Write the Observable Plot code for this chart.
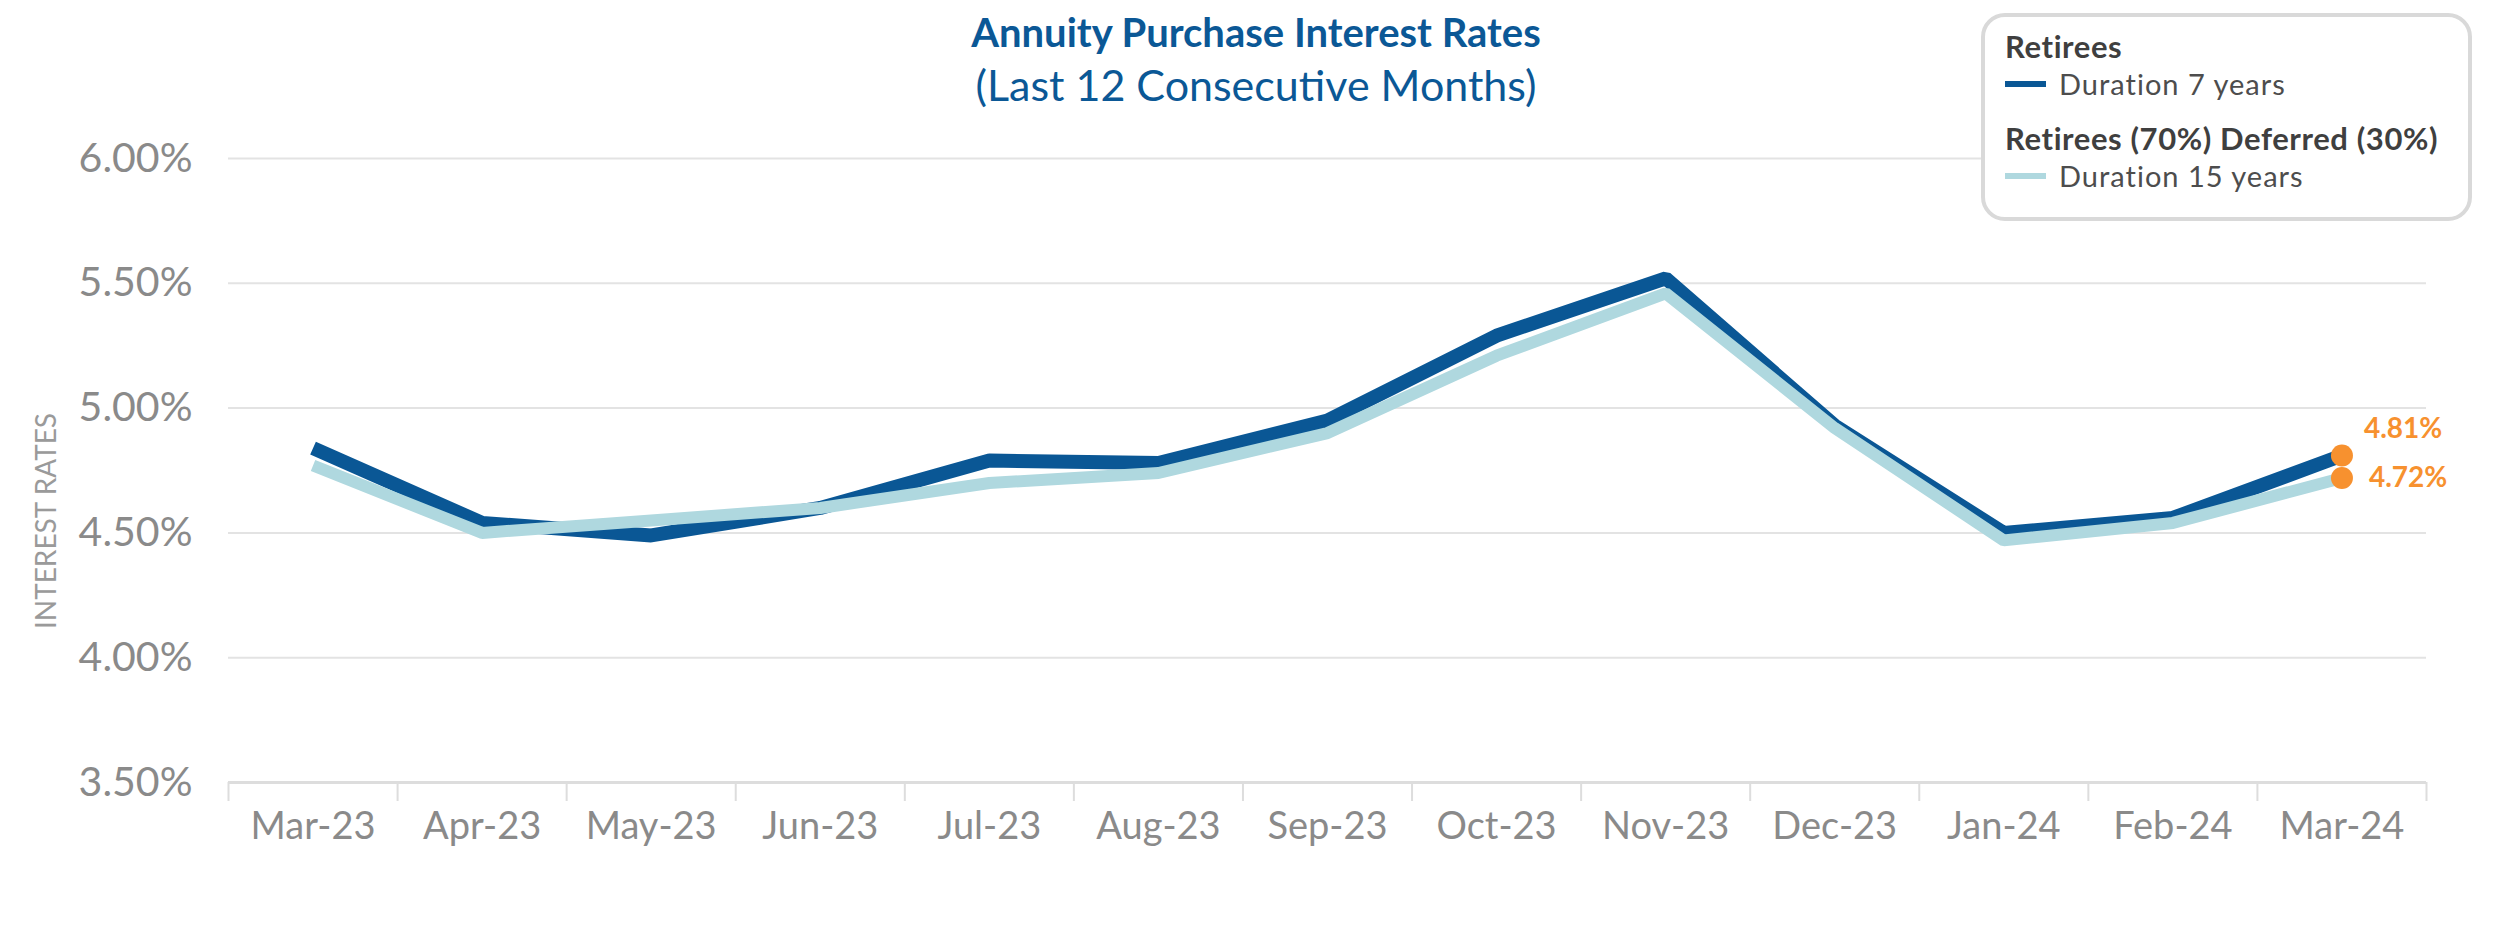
<!DOCTYPE html>
<html>
<head>
<meta charset="utf-8">
<script src="https://cdn.jsdelivr.net/npm/d3@7"></script>
<script src="https://cdn.jsdelivr.net/npm/@observablehq/plot@0.6"></script>
<style>
  html, body { margin: 0; padding: 0; background: #fff; }
  #wrap { position: relative; width: 2503px; height: 933px; overflow: hidden; font-family: Lato, "Open Sans", sans-serif; }
  .t { position: absolute; white-space: nowrap; }
  #title { left: 0; width: 2512px; top: 10px; height: 44px; line-height: 44px; text-align: center; color: #0b5896; font-weight: bold; font-size: 40px; }
  #subtitle { left: 0; width: 2512px; top: 61px; height: 48px; line-height: 48px; text-align: center; color: #0b5896; font-size: 43px; }
  #ylab { left: 45px; top: 521px; transform: translate(-50%, -50%) rotate(-90deg); font-size: 28px; color: #9a9a9a; line-height: 30px; }
  #legend { position: absolute; left: 1981px; top: 13px; width: 491px; height: 208px; box-sizing: border-box; border: 4px solid #d9d9d9; border-radius: 24px; background: #fff; }
  .lh { font-weight: bold; color: #3f3f3f; font-size: 31px; line-height: 37px; height: 37px; letter-spacing: 0.6px; }
  .li { color: #4d4d4d; font-size: 29px; line-height: 35px; height: 35px; letter-spacing: 1px; }
  .sw { position: absolute; width: 41px; height: 6px; }
  #chart { position: absolute; left: 0; top: 0; }
</style>
</head>
<body>
<div id="wrap">
  <div id="chart"></div>
  <div class="t" id="title"></div>
  <div class="t" id="subtitle"></div>
  <div class="t" id="ylab"></div>
  <div id="legend"></div>
  <div class="t lh" id="lh1" style="left:2005px;top:28px;"></div>
  <div class="sw" id="sw1" style="left:2005px;top:81px;"></div>
  <div class="t li" id="li1" style="left:2059px;top:66px;"></div>
  <div class="t lh" id="lh2" style="left:2005px;top:120px;"></div>
  <div class="sw" id="sw2" style="left:2005px;top:173px;"></div>
  <div class="t li" id="li2" style="left:2059px;top:158px;"></div>
</div>
<script>
// ---- data ----
const months = ["Mar-23","Apr-23","May-23","Jun-23","Jul-23","Aug-23","Sep-23","Oct-23","Nov-23","Dec-23","Jan-24","Feb-24","Mar-24"];
const retirees7 = [4.84, 4.54, 4.49, 4.60, 4.79, 4.78, 4.95, 5.29, 5.52, 4.93, 4.50, 4.56, 4.81];
const blended15 = [4.77, 4.50, 4.55, 4.60, 4.70, 4.74, 4.90, 5.21, 5.46, 4.92, 4.47, 4.54, 4.72];
const yTicks = [3.5, 4.0, 4.5, 5.0, 5.5, 6.0];
const titleText = "Annuity Purchase Interest Rates";
const subtitleText = "(Last 12 Consecutive Months)";
const yLabel = "INTEREST RATES";
const series = [
  {group: "Retirees", name: "Duration 7 years", color: "#0a5795"},
  {group: "Retirees (70%) Deferred (30%)", name: "Duration 15 years", color: "#afd8df"}
];

const rows = months.map((m, i) => ({i, month: m, r7: retirees7[i], r15: blended15[i]}));
const last = [rows[rows.length - 1]];
const boundaries = d3.range(months.length + 1).map(k => k - 0.5);

document.getElementById("title").textContent = titleText;
document.getElementById("subtitle").textContent = subtitleText;
document.getElementById("ylab").textContent = yLabel;
document.getElementById("lh1").textContent = series[0].group;
document.getElementById("li1").textContent = series[0].name;
document.getElementById("sw1").style.background = series[0].color;
document.getElementById("lh2").textContent = series[1].group;
document.getElementById("li2").textContent = series[1].name;
document.getElementById("sw2").style.background = series[1].color;

const orange = "#f7912f";

const chart = Plot.plot({
  width: 2503,
  height: 933,
  marginTop: 158,
  marginBottom: 151,
  marginLeft: 228,
  marginRight: 77,
  style: {fontFamily: "Lato, 'Open Sans', sans-serif", background: "white", overflow: "visible"},
  x: {type: "linear", domain: [-0.5, months.length - 0.5], axis: null},
  y: {domain: [3.5, 6.0], axis: null},
  marks: [
    Plot.gridY(yTicks.slice(1), {stroke: "#e3e3e3", strokeWidth: 2, strokeOpacity: 1}),
    Plot.ruleY([3.5], {stroke: "#dddddd", strokeWidth: 3}),
    Plot.axisX(boundaries, {tickSize: 19, tickFormat: () => "", stroke: "#dddddd", strokeWidth: 2, label: null}),
    Plot.axisX(d3.range(months.length), {tickSize: 0, tickPadding: 30, tickFormat: i => months[i], fontSize: 38, fill: "#8a8a8a", label: null}),
    Plot.axisY(yTicks, {tickSize: 0, tickPadding: 36, tickFormat: d => d.toFixed(2) + "%", fontSize: 41, fill: "#8a8a8a", label: null}),
    Plot.line(rows, {x: "i", y: "r7", stroke: series[0].color, strokeWidth: 14, strokeLinecap: "butt", strokeLinejoin: "miter"}),
    Plot.line(rows, {x: "i", y: "r15", stroke: series[1].color, strokeWidth: 12, strokeLinecap: "butt", strokeLinejoin: "miter"}),
    Plot.dot(last, {x: "i", y: "r7", r: 11, fill: orange}),
    Plot.dot(last, {x: "i", y: "r15", r: 11, fill: orange}),
    Plot.text(last, {x: "i", y: "r7", text: d => d.r7.toFixed(2) + "%", dx: 22, dy: -26, textAnchor: "start", fill: orange, fontWeight: "bold", fontSize: 28}),
    Plot.text(last, {x: "i", y: "r15", text: d => d.r15.toFixed(2) + "%", dx: 27, dy: 0, textAnchor: "start", fill: orange, fontWeight: "bold", fontSize: 28})
  ]
});
document.getElementById("chart").appendChild(chart);
</script>
</body>
</html>
